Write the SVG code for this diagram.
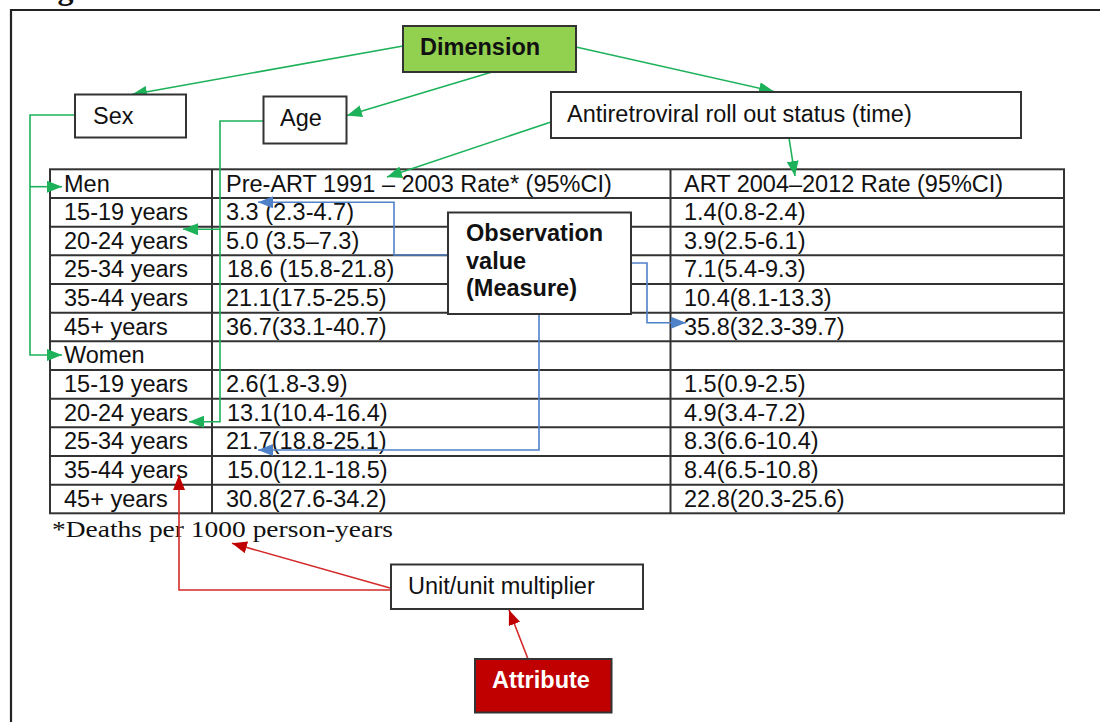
<svg xmlns="http://www.w3.org/2000/svg" width="1100" height="722" viewBox="0 0 1100 722">
<style>
.t{font-family:"Liberation Sans",Arial,sans-serif;font-size:23.5px;fill:#111}
.b{font-weight:bold}
.box{fill:#fff;stroke:#333;stroke-width:2}
.grid{stroke:#333;stroke-width:2;fill:none}
.g{stroke:#1db25a;stroke-width:1.6;fill:none}
.bl{stroke:#4f81c9;stroke-width:1.6;fill:none}
.r{stroke:#d42a2a;stroke-width:1.6;fill:none}
</style>
<defs>
<marker id="ag" markerUnits="userSpaceOnUse" markerWidth="15" markerHeight="12" refX="15" refY="6" orient="auto"><path d="M0,0 L15,6 L0,12 z" fill="#1db25a"/></marker>
<marker id="ab" markerUnits="userSpaceOnUse" markerWidth="15" markerHeight="12" refX="15" refY="6" orient="auto"><path d="M0,0 L15,6 L0,12 z" fill="#4f81c9"/></marker>
<marker id="ar" markerUnits="userSpaceOnUse" markerWidth="15" markerHeight="12" refX="15" refY="6" orient="auto"><path d="M0,0 L15,6 L0,12 z" fill="#c00000"/></marker>
</defs>
<rect width="1100" height="722" fill="#fff"/>
<text x="29" y="-1" font-family="'Liberation Serif',serif" font-size="32" font-weight="bold" fill="#111">Figure</text>
<path d="M11,722 V10 H1100" stroke="#222" stroke-width="2.2" fill="none"/>

<g id="table">
<rect x="50" y="169.3" width="1014" height="344" class="grid"/>
<path class="grid" d="M212,169.3 V513.3 M670.5,169.3 V513.3 M50,198 H1064 M50,226.7 H1064 M50,255.3 H1064 M50,284 H1064 M50,312.7 H1064 M50,341.3 H1064 M50,370 H1064 M50,398.7 H1064 M50,427.3 H1064 M50,456 H1064 M50,484.7 H1064"/>
<g class="t">
<text x="64" y="191.5">Men</text><text x="226" y="191.5">Pre-ART 1991 – 2003 Rate* (95%CI)</text><text x="684" y="191.5">ART 2004–2012 Rate (95%CI)</text>
<text x="64" y="220">15-19 years</text><text x="226" y="220">3.3 (2.3-4.7)</text><text x="684" y="220">1.4(0.8-2.4)</text>
<text x="64" y="248.7">20-24 years</text><text x="226" y="248.7">5.0 (3.5–7.3)</text><text x="684" y="248.7">3.9(2.5-6.1)</text>
<text x="64" y="277.3">25-34 years</text><text x="227" y="277.3">18.6 (15.8-21.8)</text><text x="684" y="277.3">7.1(5.4-9.3)</text>
<text x="64" y="306">35-44 years</text><text x="226" y="306">21.1(17.5-25.5)</text><text x="684" y="306">10.4(8.1-13.3)</text>
<text x="64" y="334.7">45+ years</text><text x="226" y="334.7">36.7(33.1-40.7)</text><text x="684" y="334.7">35.8(32.3-39.7)</text>
<text x="64" y="363.3">Women</text>
<text x="64" y="392">15-19 years</text><text x="226" y="392">2.6(1.8-3.9)</text><text x="684" y="392">1.5(0.9-2.5)</text>
<text x="64" y="420.7">20-24 years</text><text x="227" y="420.7">13.1(10.4-16.4)</text><text x="684" y="420.7">4.9(3.4-7.2)</text>
<text x="64" y="449.3">25-34 years</text><text x="226" y="449.3">21.7(18.8-25.1)</text><text x="684" y="449.3">8.3(6.6-10.4)</text>
<text x="64" y="478">35-44 years</text><text x="227" y="478">15.0(12.1-18.5)</text><text x="684" y="478">8.4(6.5-10.8)</text>
<text x="64" y="506.7">45+ years</text><text x="226" y="506.7">30.8(27.6-34.2)</text><text x="684" y="506.7">22.8(20.3-25.6)</text>
</g>
<text x="52" y="537" font-family="'Liberation Serif','Times New Roman',serif" font-size="22.5" fill="#111" textLength="341" lengthAdjust="spacingAndGlyphs">*Deaths per 1000 person-years</text>
</g>

<g id="connectors">
<path class="g" d="M403,46 L132,94.5" marker-end="url(#ag)"/>
<path class="g" d="M492,72 L347,115.5" marker-end="url(#ag)"/>
<path class="g" d="M576,47 L774,91.5" marker-end="url(#ag)"/>
<path class="g" d="M551,122 L387,177" marker-end="url(#ag)"/>
<path class="g" d="M789,138 L795,176" marker-end="url(#ag)"/>
<path class="g" d="M75,115 H30 V355 H62" marker-end="url(#ag)"/>
<path class="g" d="M30,186.7 H62" marker-end="url(#ag)"/>
<path class="g" d="M264,121 H220 V421.7 H189" marker-end="url(#ag)"/>
<path class="g" d="M220,229.3 H183" marker-end="url(#ag)"/>
<path class="bl" d="M448,255 H394 V202.3 H258" marker-end="url(#ab)"/>
<path class="bl" d="M631,263 H647 V322.7 H686" marker-end="url(#ab)"/>
<path class="bl" d="M539,314 V450 H258" marker-end="url(#ab)"/>
<path class="r" d="M391,590 H179 V475" marker-end="url(#ar)"/>
<path class="r" d="M390,588 L232,543.3" marker-end="url(#ar)"/>
<path class="r" d="M528,659 L509,610" marker-end="url(#ar)"/>
</g>

<g id="dimension">
<rect x="403" y="26" width="173" height="46" fill="#92d050" stroke="#333" stroke-width="2"/>
<text class="t b" x="420" y="55">Dimension</text>
</g>
<g id="sex">
<rect class="box" x="75" y="94.5" width="111" height="43"/>
<text class="t" x="93" y="124">Sex</text>
</g>
<g id="age">
<rect class="box" x="263.5" y="96.5" width="83" height="47"/>
<text class="t" x="280" y="126">Age</text>
</g>
<g id="art-status">
<rect class="box" x="551" y="92" width="470" height="46"/>
<text class="t" x="567" y="122">Antiretroviral roll out status (time)</text>
</g>
<g id="observation">
<rect class="box" x="448" y="212.5" width="183" height="101.5"/>
<text class="t b" x="466" y="241">Observation</text>
<text class="t b" x="466" y="268.5">value</text>
<text class="t b" x="466" y="296">(Measure)</text>
</g>
<g id="unit">
<rect class="box" x="391" y="564.5" width="252" height="44.5"/>
<text class="t" x="408" y="594">Unit/unit multiplier</text>
</g>
<g id="attribute">
<rect x="475" y="659" width="136.5" height="53.5" fill="#c00000" stroke="#333" stroke-width="2"/>
<text class="t b" x="492" y="688" fill="#fff" style="fill:#fff">Attribute</text>
</g>
</svg>
